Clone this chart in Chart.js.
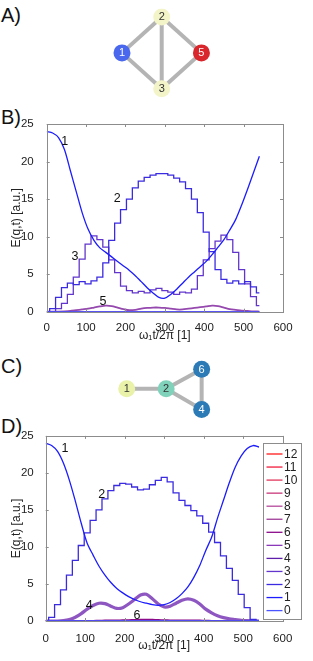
<!DOCTYPE html>
<html>
<head>
<meta charset="utf-8">
<script src="https://cdn.jsdelivr.net/npm/chart.js@4.4.1/dist/chart.umd.min.js"></script>
<style>
  html, body { margin: 0; padding: 0; background: #fff; }
  body { width: 313px; height: 661px; position: relative; overflow: hidden;
         font-family: "Liberation Sans", Arial, Helvetica, sans-serif; }
  canvas { position: absolute; left: 0; }
  .tag { position: absolute; left: 1px; font-size: 20px; line-height: 1; color: #111; }
</style>
</head>
<body>
<div class="tag" style="top:5px">A)</div>
<div class="tag" style="top:107px">B)</div>
<div class="tag" style="top:356px">C)</div>
<div class="tag" style="top:416px">D)</div>

<canvas id="netA" width="313" height="110" style="top:0px"></canvas>
<canvas id="plotB" width="313" height="245" style="top:105px"></canvas>
<canvas id="netC" width="313" height="85" style="top:345px"></canvas>
<canvas id="plotD" width="313" height="236" style="top:425px"></canvas>

<script>
// time axis, omega_1 t / 2pi
const T = [0, 15, 30, 45, 60, 75, 90, 105, 120, 135, 150, 165, 180, 195, 210, 225, 240, 255, 270,
           285, 300, 315, 330, 345, 360, 375, 390, 405, 420, 435, 450, 465, 480, 495, 510, 525, 540];

const FLAT = [0, 0, 0, 0, 0, 0, 0, 0, 0, 0, 0, 0, 0, 0, 0, 0, 0, 0, 0,
              0, 0, 0, 0, 0, 0, 0, 0, 0, 0, 0, 0, 0, 0, 0, 0, 0, 0];

// panel B, energy per level
const B1 = [24.0, 23.8, 23.2, 21.6, 18.8, 16.0, 13.2, 11.0, 9.5, 8.5, 7.9, 7.3, 6.7, 6.1, 5.5, 4.8, 4.0, 3.2, 2.5,
            1.9, 1.8, 2.3, 3.0, 3.8, 4.6, 5.3, 6.0, 6.7, 7.6, 8.6, 9.6, 10.9, 12.3, 14.2, 16.3, 18.5, 20.7];
const B2 = [0, 0.4, 1.9, 3.2, 3.8, 3.6, 4.0, 3.7, 4.1, 4.6, 6.5, 9.5, 11.8, 13.6, 15.0, 16.5, 17.4, 17.9, 18.2,
            18.4, 18.4, 18.2, 17.8, 17.3, 16.4, 15.0, 13.2, 10.6, 8.0, 5.6, 4.3, 3.8, 4.1, 3.7, 4.0, 3.3, 2.5];
const B3 = [0, 0, 0.4, 1.1, 2.3, 4.6, 7.0, 9.0, 10.1, 9.6, 8.6, 6.9, 5.2, 3.4, 2.8, 2.5, 2.7, 2.5, 2.9,
            3.1, 2.8, 2.6, 2.3, 2.6, 2.5, 3.0, 4.8, 6.9, 8.4, 9.4, 10.2, 9.6, 7.9, 5.6, 3.7, 2.0, 0.8];
const B5 = [0, 0, 0.02, 0.05, 0.1, 0.2, 0.3, 0.4, 0.55, 0.7, 0.8, 0.75, 0.55, 0.35, 0.2, 0.25, 0.4, 0.5, 0.55,
            0.55, 0.5, 0.4, 0.3, 0.3, 0.4, 0.5, 0.6, 0.7, 0.8, 0.75, 0.55, 0.35, 0.25, 0.15, 0.1, 0.05, 0.02];

// panel D
const D1 = [24.0, 23.7, 22.9, 21.3, 19.0, 16.2, 13.2, 10.5, 8.9, 7.4, 6.2, 5.2, 4.4, 3.8, 3.3, 2.9, 2.6, 2.4, 2.2,
            2.1, 2.2, 2.5, 3.0, 3.7, 4.6, 5.9, 7.5, 9.5, 11.3, 13.9, 16.3, 18.7, 20.8, 22.3, 23.3, 23.7, 23.5];
const D2 = [0, 0.5, 2.2, 4.2, 6.2, 8.2, 10.2, 11.9, 13.6, 15.0, 16.5, 17.6, 18.3, 18.6, 18.5, 18.1, 17.7, 17.8, 18.4,
            19.0, 19.4, 18.8, 17.3, 16.3, 15.6, 14.9, 14.2, 13.2, 12.0, 10.6, 8.8, 7.1, 5.5, 3.6, 1.8, 0.2, 0];
const D4 = [0, 0, 0, 0.05, 0.2, 0.5, 1.0, 1.6, 2.1, 2.4, 2.35, 2.0, 1.7, 1.8, 2.3, 2.9, 3.5, 3.6, 3.0,
            2.3, 1.9, 2.0, 2.4, 2.8, 3.0, 2.8, 2.3, 1.6, 1.1, 0.7, 0.45, 0.3, 0.2, 0.1, 0.05, 0.02, 0];
const D6 = [0, 0, 0, 0, 0, 0, 0.02, 0.04, 0.05, 0.08, 0.1, 0.11, 0.12, 0.14, 0.15, 0.18, 0.2, 0.22, 0.2,
            0.18, 0.15, 0.13, 0.12, 0.12, 0.12, 0.11, 0.1, 0.08, 0.06, 0.05, 0.03, 0.02, 0.01, 0, 0, 0, 0];

const LEVELS = ['0', '1', '2', '3', '4', '5', '6', '7', '8', '9', '10', '11', '12'];
const COLORS = ['#4a55ff', '#1c1cff', '#3b2be0', '#6236cc', '#5e1eaa', '#8a3ab8', '#8a0a8a',
                '#a03c98', '#b4489a', '#c8387a', '#e0385c', '#f21c3c', '#ff1a1a'];

// curve numbers written on the plots
const B_TAG = ['1', '2', '3', '5'];
const B_TAG_T = [46, 179, 72, 143];
const B_TAG_E = [22.6, 15.1, 7.3, 1.4];
const D_TAG = ['1', '2', '4', '6'];
const D_TAG_T = [49, 142, 110, 231];
const D_TAG_E = [23.3, 17.1, 2.1, 0.8];

// graphs
const A_NAMES = ['1', '2', '5', '3'];
const A_X = [-1, 0, 1, 0];
const A_Y = [0, 1, 0, -1];
const A_FILL = ['#4a68ee', '#f3f5c8', '#d8262c', '#f3f5c8'];
const A_INK = ['#fff', '#333', '#fff', '#333'];
const A_EDGES = [[0, 1], [0, 3], [1, 3], [1, 2], [3, 2]];

const C_NAMES = ['1', '2', '6', '4'];
const C_X = [-1, 0, 0.9, 0.9];
const C_Y = [0, 0, 0.58, -0.62];
const C_FILL = ['#e9f2a8', '#80d2ba', '#2c7bb6', '#2c7bb6'];
const C_INK = ['#333', '#333', '#fff', '#fff'];
const C_EDGES = [[0, 1], [1, 2], [1, 3], [2, 3]];

const FONT = '"Liberation Sans", Arial, Helvetica, sans-serif';

function series(level, vals, extra) {
  return Object.assign({
    label: LEVELS[level],
    data: T.map((t, i) => ({ x: t, y: vals[i] })),
    borderColor: COLORS[level],
    backgroundColor: COLORS[level],
    borderWidth: 1.3,
    pointRadius: 0,
    tension: 0.3,
    fill: false
  }, extra || {});
}

// MATLAB style box with inward ticks on all four sides
const boxTicks = {
  id: 'boxTicks',
  afterDatasetsDraw(chart) {
    const { ctx, chartArea: a, scales: { x, y } } = chart;
    ctx.save();
    ctx.strokeStyle = '#8c8c8c';
    ctx.lineWidth = 1;
    ctx.strokeRect(Math.round(a.left) + 0.5, Math.round(a.top) + 0.5,
                   Math.round(a.right - a.left), Math.round(a.bottom - a.top));
    ctx.beginPath();
    x.ticks.forEach(t => {
      const p = Math.round(x.getPixelForValue(t.value)) + 0.5;
      ctx.moveTo(p, a.bottom); ctx.lineTo(p, a.bottom - 3);
      ctx.moveTo(p, a.top); ctx.lineTo(p, a.top + 3);
    });
    y.ticks.forEach(t => {
      const p = Math.round(y.getPixelForValue(t.value)) + 0.5;
      ctx.moveTo(a.left, p); ctx.lineTo(a.left + 3, p);
      ctx.moveTo(a.right, p); ctx.lineTo(a.right - 3, p);
    });
    ctx.stroke();
    ctx.restore();
  }
};

function curveTags(names, ts, es) {
  return {
    id: 'curveTags',
    afterDatasetsDraw(chart) {
      const { ctx, scales: { x, y } } = chart;
      ctx.save();
      ctx.font = '12.5px ' + FONT;
      ctx.fillStyle = '#111';
      ctx.textAlign = 'center';
      ctx.textBaseline = 'middle';
      names.forEach((n, i) => ctx.fillText(n, x.getPixelForValue(ts[i]), y.getPixelForValue(es[i])));
      ctx.restore();
    }
  };
}

const boxLegend = {
  id: 'boxLegend',
  afterDraw(chart) {
    const { ctx, chartArea: a } = chart;
    const left = Math.round(a.right - 20), top = Math.round(a.top + 7), w = 38, h = 176;
    ctx.save();
    ctx.fillStyle = '#fff';
    ctx.fillRect(left, top, w, h);
    ctx.strokeStyle = '#8c8c8c';
    ctx.lineWidth = 1;
    ctx.strokeRect(left + 0.5, top + 0.5, w, h);
    ctx.font = '12px ' + FONT;
    ctx.textBaseline = 'middle';
    chart.data.datasets.slice().reverse().forEach((ds, i) => {
      const yy = top + 11 + i * 13.05;
      ctx.strokeStyle = ds.legendColor || ds.borderColor;
      ctx.lineWidth = 1.3;
      ctx.beginPath();
      ctx.moveTo(left + 3.5, yy);
      ctx.lineTo(left + 19.5, yy);
      ctx.stroke();
      ctx.fillStyle = '#222';
      ctx.fillText(ds.label, left + 21, yy + 0.5);
    });
    ctx.restore();
  }
};

function plotOptions(o) {
  const tickFont = { family: FONT, size: 11.5 };
  const titleFont = { family: FONT, size: 12 };
  return {
    responsive: false,
    animation: false,
    events: [],
    layout: { padding: { top: o.top, right: o.right, left: 0, bottom: 0 } },
    plugins: { legend: { display: false }, tooltip: { enabled: false } },
    scales: {
      x: {
        type: 'linear', min: 0, max: 600,
        grid: { display: false }, border: { display: false },
        ticks: { stepSize: 100, autoSkip: false, maxRotation: 0, padding: o.xTickPad, color: '#222', font: tickFont },
        title: { display: true, text: 'ω₁t/2π [1]', color: '#222', font: titleFont,
                 padding: { top: 0, bottom: o.xTitlePad } },
        afterFit: s => { s.height = o.xHeight; }
      },
      y: {
        type: 'linear', min: 0, max: 25,
        grid: { display: false }, border: { display: false },
        ticks: { stepSize: 5, autoSkip: false, padding: o.yTickPad, color: '#222', font: tickFont },
        title: { display: true, text: 'E(q,t) [a.u.]', color: '#222', font: titleFont,
                 padding: { top: 9, bottom: 0 } },
        afterFit: s => { s.width = o.yWidth; }
      }
    }
  };
}

new Chart(document.getElementById('plotB'), {
  type: 'line',
  data: {
    datasets: [
      series(0, FLAT),
      series(1, B1),
      series(2, B2, { stepped: 'middle' }),
      series(3, B3, { stepped: 'middle' }),
      series(4, FLAT, { borderColor: '#5e1eaa' }),
      series(5, B5, { borderWidth: 1.8, borderColor: 'rgba(130,40,160,0.85)' })
    ]
  },
  options: plotOptions({ top: 19, right: 30, xHeight: 38.3, yWidth: 46.7, xTickPad: 1, yTickPad: 5, xTitlePad: 7 }),
  plugins: [boxTicks, curveTags(B_TAG, B_TAG_T, B_TAG_E)]
});

const dSets = LEVELS.map((n, i) => {
  if (i === 1) return series(1, D1);
  if (i === 2) return series(2, D2, { stepped: 'middle' });
  if (i === 4) return series(4, D4, { borderWidth: 3.2, borderColor: 'rgba(112,44,176,0.8)', legendColor: COLORS[4] });
  if (i === 6) return series(6, D6);
  return series(i, FLAT);
});

new Chart(document.getElementById('plotD'), {
  type: 'line',
  data: { datasets: dSets },
  options: plotOptions({ top: 9, right: 30.3, xHeight: 40, yWidth: 45.7, xTickPad: 3, yTickPad: 4, xTitlePad: 8 }),
  plugins: [boxTicks, curveTags(D_TAG, D_TAG_T, D_TAG_E), boxLegend]
});

// network drawings as scatter charts
const nodeText = {
  id: 'nodeText',
  afterDatasetsDraw(chart) {
    const { ctx } = chart;
    const ds = chart.data.datasets[0];
    ctx.save();
    ctx.font = '11px ' + FONT;
    ctx.textAlign = 'center';
    ctx.textBaseline = 'middle';
    chart.getDatasetMeta(0).data.forEach((pt, i) => {
      ctx.fillStyle = ds.ink[i];
      ctx.fillText(ds.names[i], pt.x, pt.y + 0.5);
    });
    ctx.restore();
  }
};

function network(id, names, xs, ys, fill, ink, edges, xr, yr) {
  const nodes = {
    data: xs.map((v, i) => ({ x: v, y: ys[i] })),
    names: names, ink: ink,
    pointRadius: 8.5, pointBackgroundColor: fill, pointBorderWidth: 0, showLine: false
  };
  const links = edges.map(e => ({
    data: [{ x: xs[e[0]], y: ys[e[0]] }, { x: xs[e[1]], y: ys[e[1]] }],
    showLine: true, borderColor: '#b4b4b4', borderWidth: 4, pointRadius: 0
  }));
  new Chart(document.getElementById(id), {
    type: 'scatter',
    data: { datasets: [nodes].concat(links) },
    options: {
      responsive: false, animation: false, events: [],
      plugins: { legend: { display: false }, tooltip: { enabled: false } },
      scales: {
        x: { display: false, min: xr[0], max: xr[1] },
        y: { display: false, min: yr[0], max: yr[1] }
      }
    },
    plugins: [nodeText]
  });
}

network('netA', A_NAMES, A_X, A_Y, A_FILL, A_INK, A_EDGES, [-3.857, 3.595], [-1.353, 1.235]);
network('netC', C_NAMES, C_X, C_Y, C_FILL, C_INK, C_EDGES, [-3.998, 3.508], [-0.983, 1.055]);
</script>
</body>
</html>
